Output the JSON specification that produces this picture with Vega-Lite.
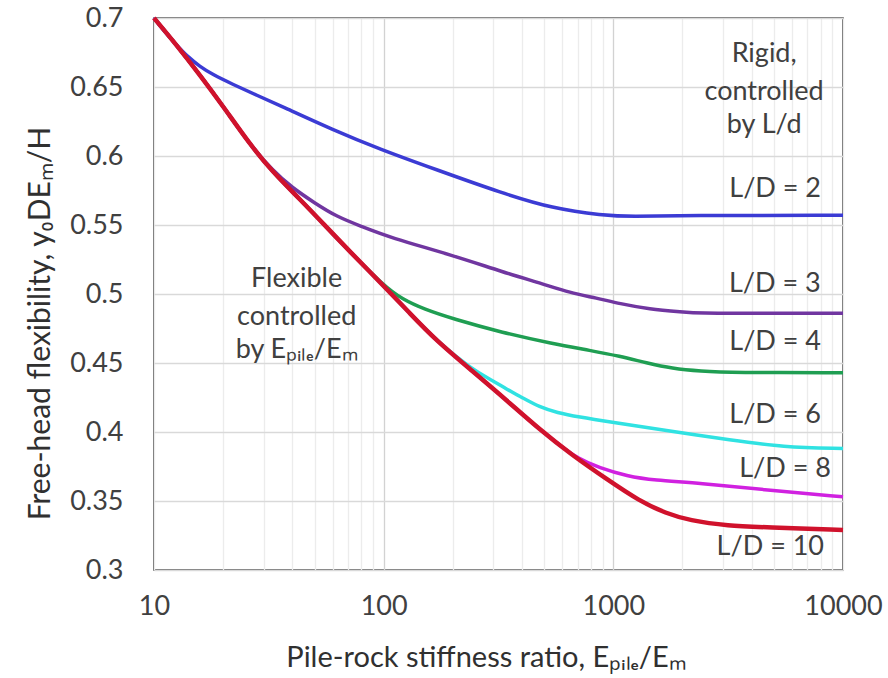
{
  "$schema": "https://vega.github.io/schema/vega-lite/v6.json",
  "width": 689,
  "height": 552,
  "autosize": "none",
  "padding": {"left": 154, "top": 18, "right": 45, "bottom": 108},
  "background": "white",
  "config": {"view": {"stroke": "#404040", "strokeWidth": 1.5}, "font": "Lato"},
  "datasets": {
    "curves": [
      {"s": "L/D = 2", "x": 10, "y": 0.700},
      {"s": "L/D = 2", "x": 11, "y": 0.691},
      {"s": "L/D = 2", "x": 12.6, "y": 0.680},
      {"s": "L/D = 2", "x": 14, "y": 0.672},
      {"s": "L/D = 2", "x": 15.8, "y": 0.665},
      {"s": "L/D = 2", "x": 18, "y": 0.659},
      {"s": "L/D = 2", "x": 22, "y": 0.652},
      {"s": "L/D = 2", "x": 28, "y": 0.644},
      {"s": "L/D = 2", "x": 36, "y": 0.636},
      {"s": "L/D = 2", "x": 60, "y": 0.619},
      {"s": "L/D = 2", "x": 96, "y": 0.605},
      {"s": "L/D = 2", "x": 170, "y": 0.590},
      {"s": "L/D = 2", "x": 329, "y": 0.573},
      {"s": "L/D = 2", "x": 543, "y": 0.562},
      {"s": "L/D = 2", "x": 896, "y": 0.557},
      {"s": "L/D = 2", "x": 1211, "y": 0.556},
      {"s": "L/D = 2", "x": 2000, "y": 0.557},
      {"s": "L/D = 2", "x": 10000, "y": 0.557},

      {"s": "L/D = 3", "x": 10, "y": 0.700},
      {"s": "L/D = 3", "x": 12.6, "y": 0.680},
      {"s": "L/D = 3", "x": 15.8, "y": 0.659},
      {"s": "L/D = 3", "x": 20, "y": 0.636},
      {"s": "L/D = 3", "x": 26, "y": 0.609},
      {"s": "L/D = 3", "x": 33, "y": 0.589},
      {"s": "L/D = 3", "x": 40, "y": 0.577},
      {"s": "L/D = 3", "x": 50, "y": 0.566},
      {"s": "L/D = 3", "x": 62.5, "y": 0.556},
      {"s": "L/D = 3", "x": 80, "y": 0.549},
      {"s": "L/D = 3", "x": 106, "y": 0.541},
      {"s": "L/D = 3", "x": 200, "y": 0.528},
      {"s": "L/D = 3", "x": 329, "y": 0.516},
      {"s": "L/D = 3", "x": 500, "y": 0.507},
      {"s": "L/D = 3", "x": 644, "y": 0.501},
      {"s": "L/D = 3", "x": 850, "y": 0.497},
      {"s": "L/D = 3", "x": 1062, "y": 0.493},
      {"s": "L/D = 3", "x": 1435, "y": 0.489},
      {"s": "L/D = 3", "x": 2000, "y": 0.487},
      {"s": "L/D = 3", "x": 2366, "y": 0.486},
      {"s": "L/D = 3", "x": 4000, "y": 0.486},
      {"s": "L/D = 3", "x": 10000, "y": 0.486},

      {"s": "L/D = 4", "x": 10, "y": 0.700},
      {"s": "L/D = 4", "x": 12.6, "y": 0.680},
      {"s": "L/D = 4", "x": 15.8, "y": 0.659},
      {"s": "L/D = 4", "x": 20, "y": 0.636},
      {"s": "L/D = 4", "x": 26, "y": 0.609},
      {"s": "L/D = 4", "x": 33, "y": 0.588},
      {"s": "L/D = 4", "x": 43, "y": 0.569},
      {"s": "L/D = 4", "x": 56, "y": 0.549},
      {"s": "L/D = 4", "x": 71, "y": 0.531},
      {"s": "L/D = 4", "x": 100, "y": 0.506},
      {"s": "L/D = 4", "x": 121, "y": 0.496},
      {"s": "L/D = 4", "x": 150, "y": 0.489},
      {"s": "L/D = 4", "x": 200, "y": 0.482},
      {"s": "L/D = 4", "x": 329, "y": 0.472},
      {"s": "L/D = 4", "x": 543, "y": 0.464},
      {"s": "L/D = 4", "x": 800, "y": 0.459},
      {"s": "L/D = 4", "x": 1062, "y": 0.455},
      {"s": "L/D = 4", "x": 1400, "y": 0.450},
      {"s": "L/D = 4", "x": 1800, "y": 0.446},
      {"s": "L/D = 4", "x": 2400, "y": 0.444},
      {"s": "L/D = 4", "x": 3290, "y": 0.443},
      {"s": "L/D = 4", "x": 10000, "y": 0.443},

      {"s": "L/D = 6", "x": 10, "y": 0.700},
      {"s": "L/D = 6", "x": 12.6, "y": 0.680},
      {"s": "L/D = 6", "x": 15.8, "y": 0.659},
      {"s": "L/D = 6", "x": 20, "y": 0.636},
      {"s": "L/D = 6", "x": 26, "y": 0.609},
      {"s": "L/D = 6", "x": 33, "y": 0.588},
      {"s": "L/D = 6", "x": 43, "y": 0.569},
      {"s": "L/D = 6", "x": 56, "y": 0.549},
      {"s": "L/D = 6", "x": 71, "y": 0.531},
      {"s": "L/D = 6", "x": 100, "y": 0.506},
      {"s": "L/D = 6", "x": 130, "y": 0.486},
      {"s": "L/D = 6", "x": 170, "y": 0.466},
      {"s": "L/D = 6", "x": 244, "y": 0.445},
      {"s": "L/D = 6", "x": 300, "y": 0.437},
      {"s": "L/D = 6", "x": 343, "y": 0.431},
      {"s": "L/D = 6", "x": 400, "y": 0.425},
      {"s": "L/D = 6", "x": 477, "y": 0.418},
      {"s": "L/D = 6", "x": 570, "y": 0.414},
      {"s": "L/D = 6", "x": 700, "y": 0.411},
      {"s": "L/D = 6", "x": 991, "y": 0.407},
      {"s": "L/D = 6", "x": 1698, "y": 0.401},
      {"s": "L/D = 6", "x": 3290, "y": 0.394},
      {"s": "L/D = 6", "x": 5433, "y": 0.389},
      {"s": "L/D = 6", "x": 10000, "y": 0.388},

      {"s": "L/D = 8", "x": 10, "y": 0.700},
      {"s": "L/D = 8", "x": 12.6, "y": 0.680},
      {"s": "L/D = 8", "x": 15.8, "y": 0.659},
      {"s": "L/D = 8", "x": 20, "y": 0.636},
      {"s": "L/D = 8", "x": 26, "y": 0.609},
      {"s": "L/D = 8", "x": 33, "y": 0.588},
      {"s": "L/D = 8", "x": 43, "y": 0.569},
      {"s": "L/D = 8", "x": 56, "y": 0.549},
      {"s": "L/D = 8", "x": 71, "y": 0.531},
      {"s": "L/D = 8", "x": 100, "y": 0.506},
      {"s": "L/D = 8", "x": 130, "y": 0.486},
      {"s": "L/D = 8", "x": 170, "y": 0.466},
      {"s": "L/D = 8", "x": 244, "y": 0.444},
      {"s": "L/D = 8", "x": 343, "y": 0.423},
      {"s": "L/D = 8", "x": 476, "y": 0.402},
      {"s": "L/D = 8", "x": 600, "y": 0.389},
      {"s": "L/D = 8", "x": 700, "y": 0.381},
      {"s": "L/D = 8", "x": 868, "y": 0.374},
      {"s": "L/D = 8", "x": 1150, "y": 0.368},
      {"s": "L/D = 8", "x": 1500, "y": 0.365},
      {"s": "L/D = 8", "x": 2366, "y": 0.363},
      {"s": "L/D = 8", "x": 4624, "y": 0.358},
      {"s": "L/D = 8", "x": 10000, "y": 0.353},

      {"s": "L/D = 10", "x": 10, "y": 0.700},
      {"s": "L/D = 10", "x": 12.6, "y": 0.680},
      {"s": "L/D = 10", "x": 15.8, "y": 0.659},
      {"s": "L/D = 10", "x": 20, "y": 0.636},
      {"s": "L/D = 10", "x": 26, "y": 0.609},
      {"s": "L/D = 10", "x": 33, "y": 0.588},
      {"s": "L/D = 10", "x": 43, "y": 0.569},
      {"s": "L/D = 10", "x": 56, "y": 0.549},
      {"s": "L/D = 10", "x": 71, "y": 0.531},
      {"s": "L/D = 10", "x": 100, "y": 0.506},
      {"s": "L/D = 10", "x": 130, "y": 0.486},
      {"s": "L/D = 10", "x": 170, "y": 0.466},
      {"s": "L/D = 10", "x": 244, "y": 0.444},
      {"s": "L/D = 10", "x": 343, "y": 0.423},
      {"s": "L/D = 10", "x": 476, "y": 0.402},
      {"s": "L/D = 10", "x": 664, "y": 0.383},
      {"s": "L/D = 10", "x": 933, "y": 0.366},
      {"s": "L/D = 10", "x": 1297, "y": 0.350},
      {"s": "L/D = 10", "x": 1698, "y": 0.341},
      {"s": "L/D = 10", "x": 2138, "y": 0.336},
      {"s": "L/D = 10", "x": 3162, "y": 0.332},
      {"s": "L/D = 10", "x": 4624, "y": 0.331},
      {"s": "L/D = 10", "x": 10000, "y": 0.329}
    ],
    "notes": [
      {"g": "rigid", "t": "Rigid,", "x": 4535, "y": 0.668},
      {"g": "rigid", "t": "controlled", "x": 4535, "y": 0.6406},
      {"g": "rigid", "t": "by L/d", "x": 4535, "y": 0.6167},
      {"g": "flex", "t": "Flexible", "x": 41.8, "y": 0.5051},
      {"g": "flex", "t": "controlled", "x": 41.8, "y": 0.4775},
      {"g": "flex", "t": "by Eₚᵢₗₑ/Eₘ", "x": 41.8, "y": 0.4536},
      {"g": "ld", "t": "L/D = 2", "x": 8023, "y": 0.5703},
      {"g": "ld", "t": "L/D = 3", "x": 8000, "y": 0.5014},
      {"g": "ld", "t": "L/D = 4", "x": 8023, "y": 0.4594},
      {"g": "ld", "t": "L/D = 6", "x": 8023, "y": 0.4065},
      {"g": "ld", "t": "L/D = 8", "x": 8867, "y": 0.3674},
      {"g": "ld", "t": "L/D = 10", "x": 8267, "y": 0.3109}
    ]
  },
  "layer": [
    {
      "data": {"name": "curves"},
      "transform": [{"filter": "datum.s != 'L/D = 10'"}],
      "mark": {"type": "line", "interpolate": "basis", "strokeWidth": 3.5},
      "encoding": {
        "x": {
          "field": "x", "type": "quantitative",
          "scale": {"type": "log", "domain": [10, 10000], "nice": false},
          "axis": {
            "title": "Pile-rock stiffness ratio, Eₚᵢₗₑ/Eₘ",
            "values": [10, 20, 30, 40, 50, 60, 70, 80, 90, 100, 200, 300, 400, 500, 600, 700, 800, 900, 1000, 2000, 3000, 4000, 5000, 6000, 7000, 8000, 9000, 10000],
            "labelExpr": "(datum.value == 10 || datum.value == 100 || datum.value == 1000 || datum.value == 10000) ? format(datum.value, 'd') : ''",
            "labelOverlap": false,
            "labelFlush": false,
            "labelBound": false,
            "ticks": false,
            "domain": false,
            "grid": true,
            "gridColor": {"condition": {"test": "datum.value == 100 || datum.value == 1000", "value": "#d2d2d2"}, "value": "#ececec"},
            "gridWidth": 1.3,
            "labelFontSize": 27,
            "labelColor": "#404040",
            "labelPadding": 23,
            "titleFontSize": 29,
            "titleFontWeight": "normal",
            "titleColor": "#303030",
            "titleX": 332,
            "titleY": 87,
            "titleAlign": "center",
            "titleBaseline": "middle"
          }
        },
        "y": {
          "field": "y", "type": "quantitative",
          "scale": {"domain": [0.3, 0.7], "nice": false, "zero": false},
          "axis": {
            "title": "Free-head flexibility, y₀DEₘ/H",
            "values": [0.3, 0.35, 0.4, 0.45, 0.5, 0.55, 0.6, 0.65, 0.7],
            "format": ".2~f",
            "ticks": false,
            "domain": false,
            "grid": true,
            "gridColor": "#d9d9d9",
            "gridWidth": 1.5,
            "labelFontSize": 27,
            "labelColor": "#404040",
            "labelPadding": 31,
            "titleFontSize": 30,
            "titleFontWeight": "normal",
            "titleColor": "#303030",
            "titleX": -114,
            "titleY": 305,
            "titleAngle": -90,
            "titleAlign": "center",
            "titleBaseline": "middle"
          }
        },
        "color": {
          "field": "s", "type": "nominal",
          "scale": {
            "domain": ["L/D = 2", "L/D = 3", "L/D = 4", "L/D = 6", "L/D = 8"],
            "range": ["#3b3bd4", "#7036a0", "#1f9e52", "#30e2e2", "#d021e0"]
          },
          "legend": null
        }
      }
    },
    {
      "data": {"name": "curves"},
      "transform": [{"filter": "datum.s == 'L/D = 10'"}],
      "mark": {"type": "line", "interpolate": "basis", "strokeWidth": 4.5, "color": "#d0122c"},
      "encoding": {
        "x": {"field": "x", "type": "quantitative"},
        "y": {"field": "y", "type": "quantitative"}
      }
    },
    {
      "data": {"name": "notes"},
      "transform": [{"filter": "datum.g != 'ld'"}],
      "mark": {"type": "text", "fontSize": 27, "color": "#404040", "align": "center", "baseline": "alphabetic"},
      "encoding": {
        "x": {"field": "x", "type": "quantitative"},
        "y": {"field": "y", "type": "quantitative"},
        "text": {"field": "t"}
      }
    },
    {
      "data": {"name": "notes"},
      "transform": [{"filter": "datum.g == 'ld'"}],
      "mark": {"type": "text", "fontSize": 27, "color": "#404040", "align": "right", "baseline": "alphabetic"},
      "encoding": {
        "x": {"field": "x", "type": "quantitative"},
        "y": {"field": "y", "type": "quantitative"},
        "text": {"field": "t"}
      }
    }
  ]
}
